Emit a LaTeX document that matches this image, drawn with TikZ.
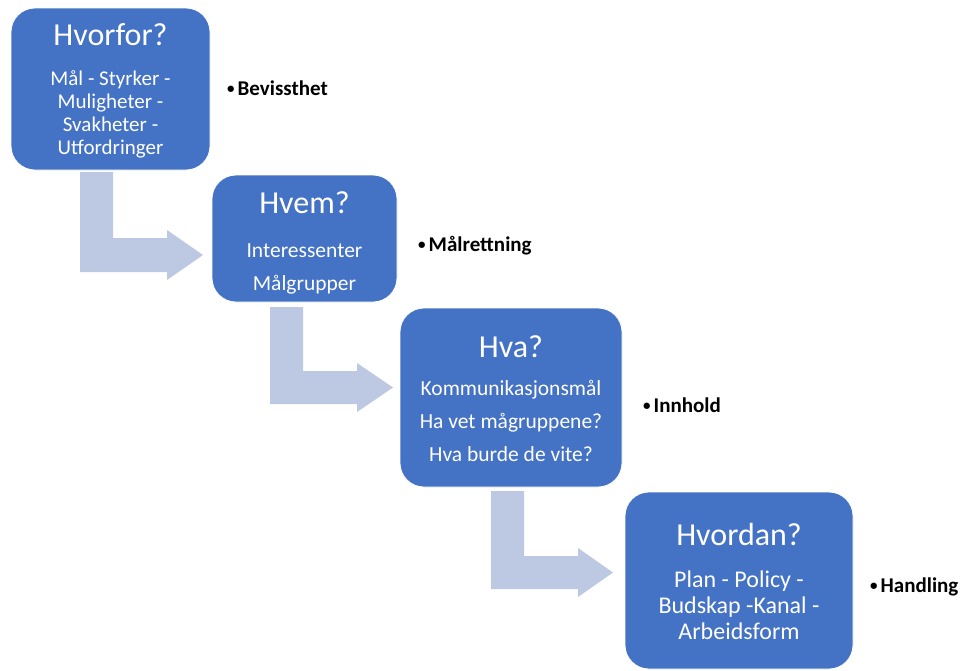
\documentclass[tikz,border=0pt]{standalone}
\usepackage{fontspec}
\setmainfont{Carlito}
\definecolor{stepblue}{HTML}{4472C4}
\definecolor{bendtint}{HTML}{BDC8E3}
\newcommand{\keydot}{\raisebox{1.5pt}{\fontsize{15}{15}\selectfont•}\hspace{3pt}}
\begin{document}
\begin{tikzpicture}[x=1pt,y=-1pt,
  stepbox/.style={draw=white, line width=0.8pt, fill=stepblue, rounded corners=24pt, inner sep=0pt},
  titletext/.style={text=white, font=\fontsize{32}{38}\selectfont, anchor=base, inner sep=0pt},
  bodytext/.style={text=white, align=center, anchor=base, inner sep=0pt},
  bullettext/.style={font=\fontsize{21}{24}\selectfont\bfseries, anchor=base west, inner sep=0pt},
  bentarrow/.style={fill=bendtint, draw=none}]
\useasboundingbox (0,0) rectangle (963,670);

% bent arrows between the steps
\fill[bentarrow] (80,172) -- (113,172) -- (113,238) -- (167,238) -- (167,230) -- (203,255)
  -- (167,280) -- (167,272) -- (80,272) -- cycle;
\fill[bentarrow] (270,307) -- (303,307) -- (303,371) -- (357,371) -- (357,363) -- (393,387.5)
  -- (357,412) -- (357,404) -- (270,404) -- cycle;
\fill[bentarrow] (491,491) -- (524,491) -- (524,556) -- (578,556) -- (578,548) -- (613,572.5)
  -- (578,597) -- (578,589) -- (491,589) -- cycle;

% step boxes
\node[stepbox, minimum width=199pt, minimum height=162pt] (b1) at (110.5,89) {};
\node[stepbox, minimum width=185pt, minimum height=127pt] (b2) at (304.5,238.5) {};
\node[stepbox, minimum width=222pt, minimum height=179pt] (b3) at (511,397.5) {};
\node[stepbox, minimum width=228pt, minimum height=177pt] (b4) at (739,580.5) {};

% titles
\node[titletext] (t1) at (110.5,45) {Hvorfor?};
\node[titletext] (t2) at (304.5,213) {Hvem?};
\node[titletext] (t3) at (511,357) {Hva?};
\node[titletext] (t4) at (739,545) {Hvordan?};

% body text (anchored on the baseline of the last line)
\node[bodytext, font=\fontsize{21}{23}\selectfont] (d1) at (110.5,154)
  {Mål - Styrker -\\Muligheter -\\Svakheter -\\Utfordringer};
\node[bodytext, font=\fontsize{21.5}{33}\selectfont] (d2) at (304.5,290)
  {Interessenter\\Målgrupper};
\node[bodytext, font=\fontsize{21.5}{33}\selectfont] (d3) at (511,461)
  {Kommunikasjonsmål\\Ha vet mågruppene?\\Hva burde de vite?};
\node[bodytext, font=\fontsize{24}{26}\selectfont] (d4) at (739,639)
  {Plan - Policy -\\Budskap -Kanal -\\Arbeidsform};

% keywords beside the steps
\node[bullettext] (k1) at (227,95) {\keydot Bevissthet};
\node[bullettext] (k2) at (418,251) {\keydot Målrettning};
\node[bullettext] (k3) at (643,412) {\keydot Innhold};
\node[bullettext] (k4) at (870,592) {\keydot Handling};
\end{tikzpicture}
\end{document}
